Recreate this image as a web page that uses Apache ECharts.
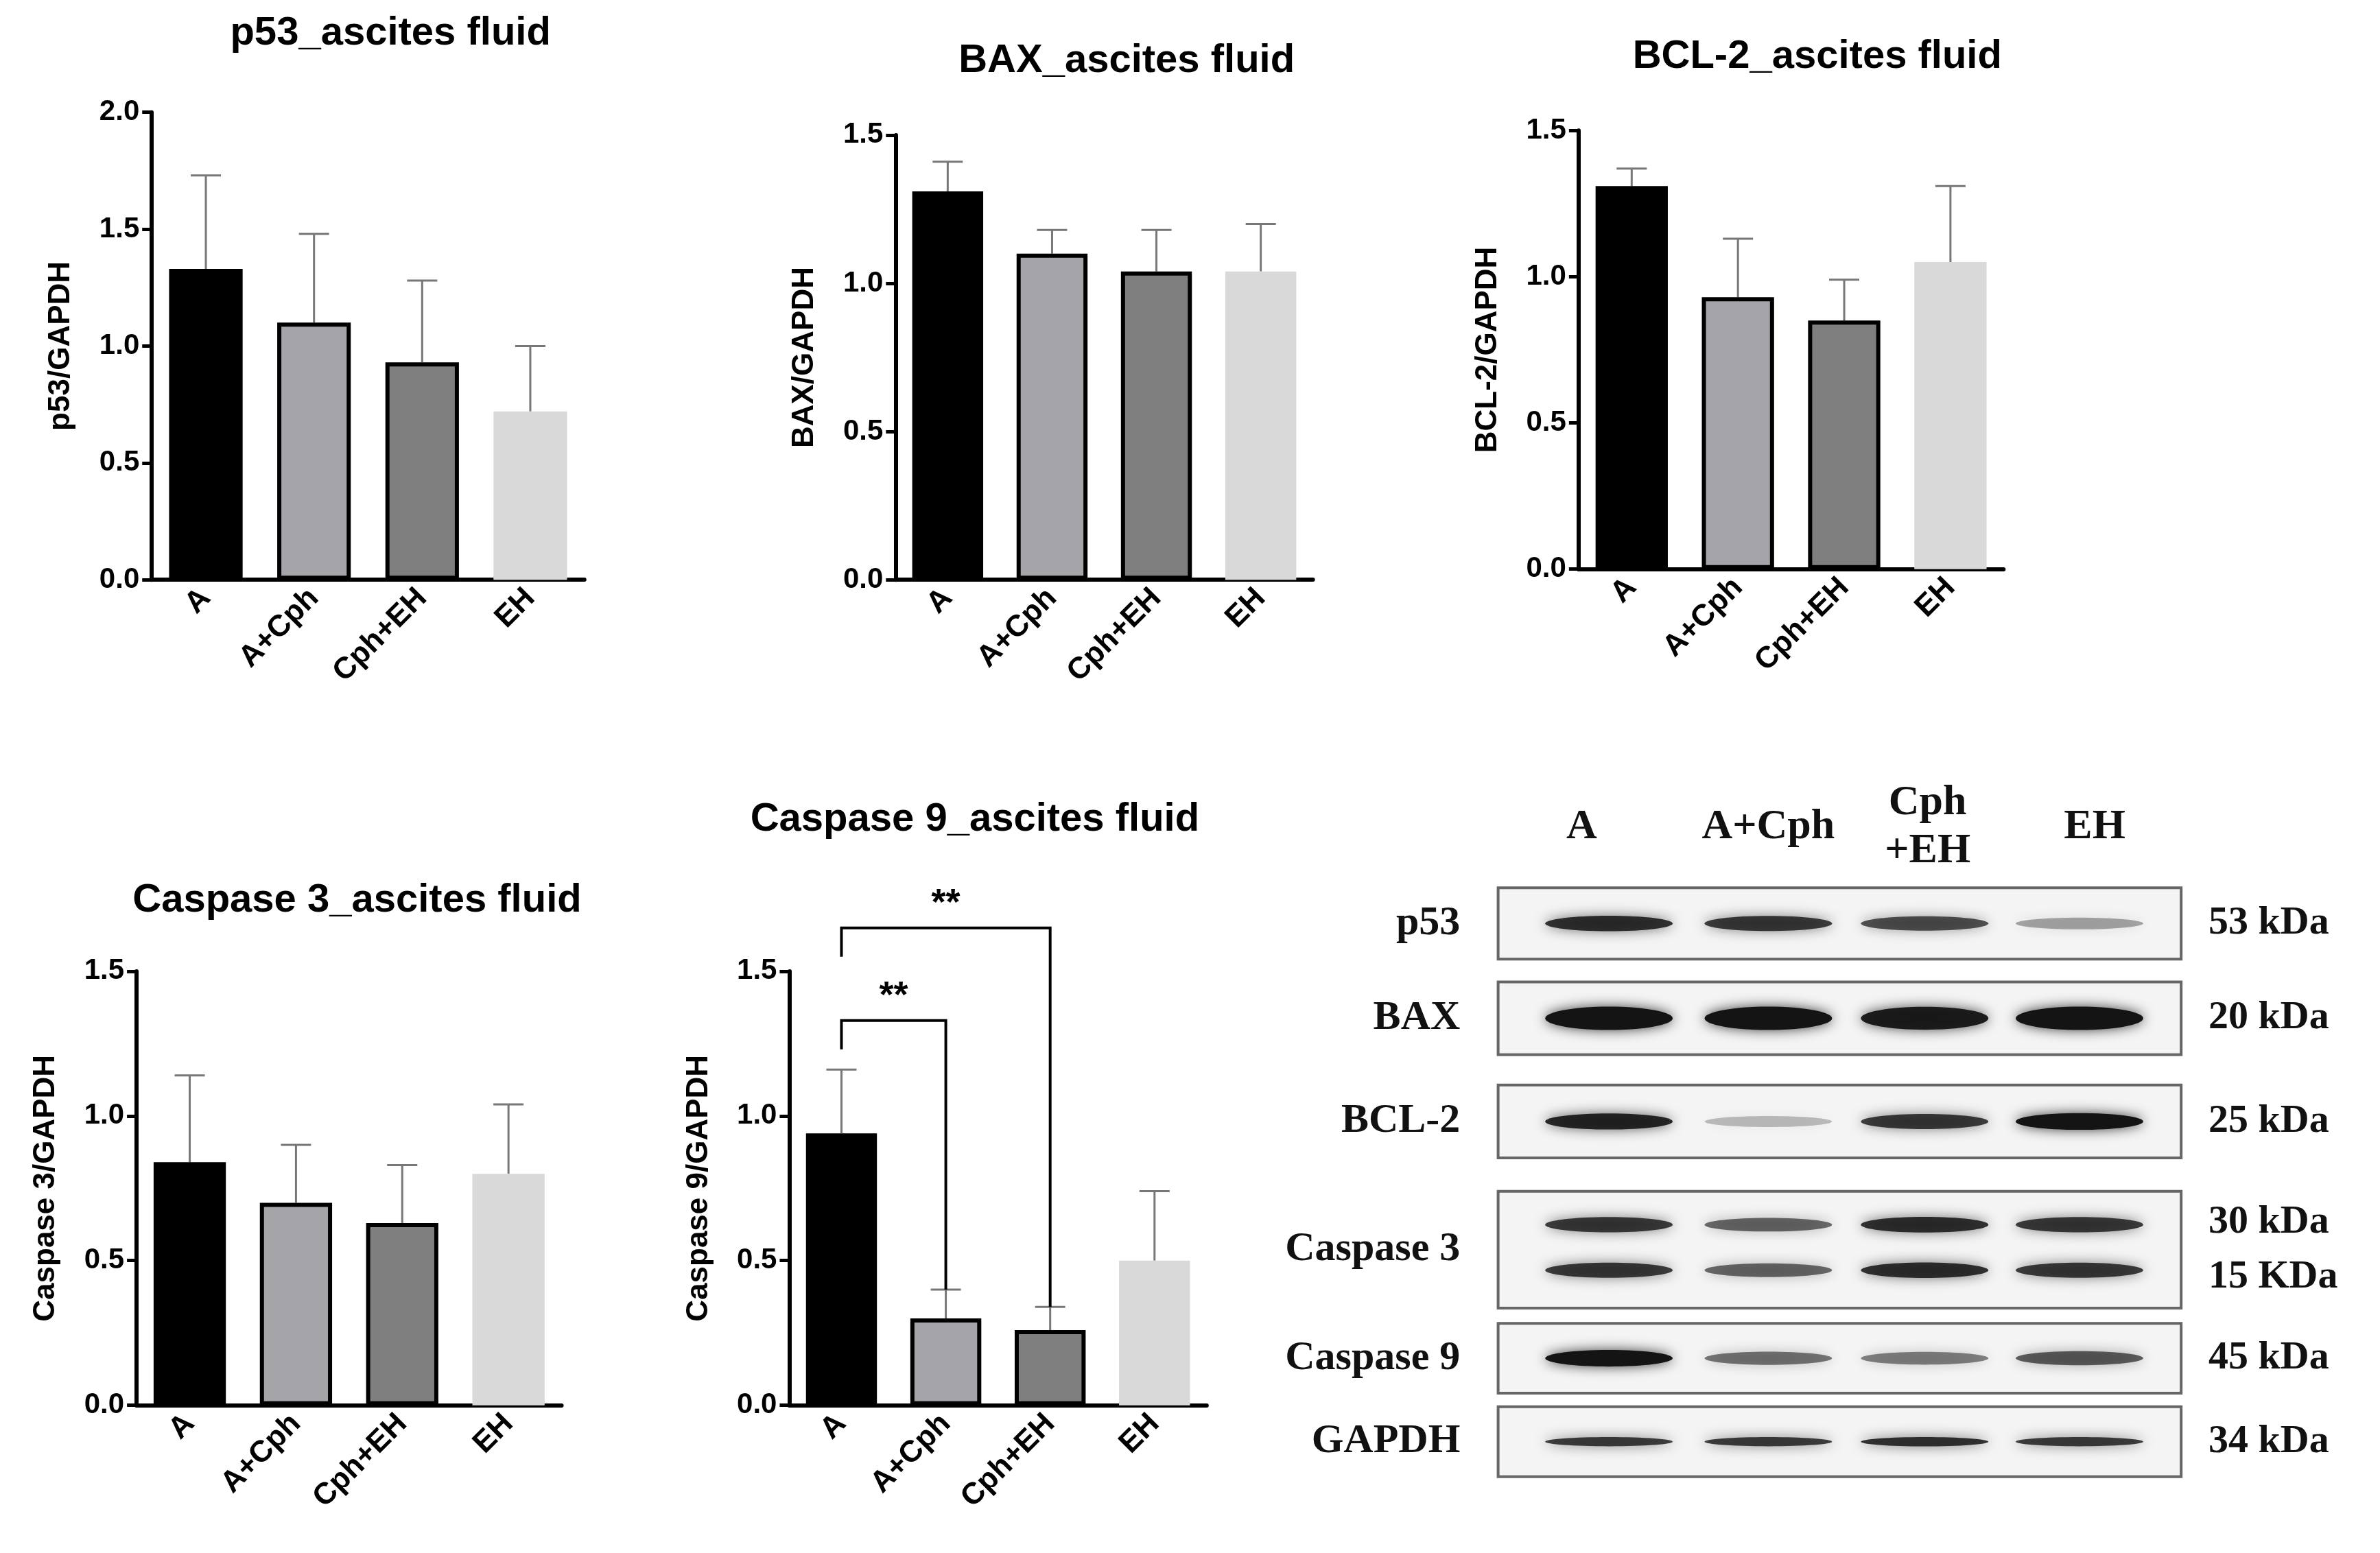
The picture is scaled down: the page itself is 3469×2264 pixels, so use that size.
<!DOCTYPE html>
<html><head><meta charset="utf-8">
<script src="https://cdn.jsdelivr.net/npm/echarts@6/dist/echarts.min.js"></script>
<style>html,body{margin:0;background:#fff}#c{width:3469px;height:2264px}</style>
</head><body><div id="c"></div>
<script>
const groups = ["A", "A+Cph", "Cph+EH", "EH"];
const barColors = ["#000000", "#a5a4a9", "#7f7f7f", "#d9d9d9"];
const p53Mean = [1.33, 1.10, 0.93, 0.72], p53Sd = [0.40, 0.38, 0.35, 0.28];
const baxMean = [1.31, 1.10, 1.04, 1.04], baxSd = [0.10, 0.08, 0.14, 0.16];
const bcl2Mean = [1.31, 0.93, 0.85, 1.05], bcl2Sd = [0.06, 0.20, 0.14, 0.26];
const casp3Mean = [0.84, 0.70, 0.63, 0.80], casp3Sd = [0.30, 0.20, 0.20, 0.24];
const casp9Mean = [0.94, 0.30, 0.26, 0.50], casp9Sd = [0.22, 0.10, 0.08, 0.24];
// significance: [from, to, bracket height, label]
const casp9Sig = [[0, 1, 1.33, "**"], [0, 2, 1.65, "**"]];
const blotRows = ["p53", "BAX", "BCL-2", "Caspase 3", "Caspase 9", "GAPDH"];
const blotKda = ["53 kDa", "20 kDa", "25 kDa", "30 kDa\n15 KDa", "45 kDa", "34 kDa"];
const blotIntensity = [
  [0.85, 0.8, 0.7, 0.35],
  [1, 1, 0.95, 1],
  [0.9, 0.25, 0.8, 1],
  [0.8, 0.6, 0.85, 0.8],
  [1, 0.55, 0.5, 0.65],
  [0.8, 0.8, 0.85, 0.8]
];

const s = 3469 / 1568;
const chart = echarts.init(document.getElementById("c"));
const panels = [
  {title: "p53_ascites fluid", yName: "p53/GAPDH", mean: p53Mean, sd: p53Sd, max: 2.0, ax: 100, top: 74, y0: 382, right: 385, ty: 22, tx: 255},
  {title: "BAX_ascites fluid", yName: "BAX/GAPDH", mean: baxMean, sd: baxSd, max: 1.5, ax: 590, top: 89, y0: 382, right: 865, ty: 40, tx: 740},
  {title: "BCL-2_ascites fluid", yName: "BCL-2/GAPDH", mean: bcl2Mean, sd: bcl2Sd, max: 1.5, ax: 1040, top: 86, y0: 375, right: 1320, ty: 37, tx: 1195},
  {title: "Caspase 3_ascites fluid", yName: "Caspase 3/GAPDH", mean: casp3Mean, sd: casp3Sd, max: 1.5, ax: 90, top: 640, y0: 926, right: 370, ty: 593, tx: 233},
  {title: "Caspase 9_ascites fluid", yName: "Caspase 9/GAPDH", mean: casp9Mean, sd: casp9Sd, max: 1.5, ax: 520, top: 640, y0: 926, right: 795, ty: 540, tx: 640, sig: casp9Sig}
];
const F = "Liberation Sans";
const grid = [], xAxis = [], yAxis = [], series = [], title = [];
panels.forEach((p, i) => {
  grid.push({left: p.ax * s, top: p.top * s, width: (p.right - p.ax) * s, height: (p.y0 - p.top) * s});
  title.push({text: p.title, left: p.tx * s, top: (p.ty - 15) * s, textAlign: "center",
    textStyle: {fontFamily: F, fontWeight: "bold", fontSize: 58, color: "#000"}});
  xAxis.push({type: "category", gridIndex: i, data: groups,
    axisLine: {lineStyle: {color: "#000", width: 6}}, axisTick: {length: 14, lineStyle: {width: 5, color: "#000"}, alignWithLabel: true},
    axisLabel: {rotate: 45, fontFamily: F, fontWeight: "bold", fontSize: 44, color: "#000", margin: 20}});
  yAxis.push({type: "value", gridIndex: i, min: 0, max: p.max, interval: 0.5, name: p.yName, nameLocation: "middle", nameGap: 110,
    nameTextStyle: {fontFamily: F, fontWeight: "bold", fontSize: 44, color: "#000"},
    splitLine: {show: false}, axisLine: {show: true, lineStyle: {color: "#000", width: 6}},
    axisTick: {show: true, length: 14, lineStyle: {width: 5, color: "#000"}},
    axisLabel: {fontFamily: F, fontWeight: "bold", fontSize: 42, color: "#000", margin: 18, formatter: v => v.toFixed(1)}});
  series.push({type: "bar", xAxisIndex: i, yAxisIndex: i, barWidth: "68%",
    data: p.mean.map((v, k) => ({value: v, itemStyle: {color: barColors[k], borderColor: k === 3 ? barColors[k] : "#000", borderWidth: 6}}))});
  series.push({type: "custom", xAxisIndex: i, yAxisIndex: i, z: 1,
    data: p.mean.map((v, k) => [k, v, v + p.sd[k]]),
    renderItem: (params, api) => {
      const a = api.coord([api.value(0), api.value(1)]), b = api.coord([api.value(0), api.value(2)]);
      const st = {stroke: "#777", lineWidth: 3};
      return {type: "group", children: [
        {type: "line", shape: {x1: a[0], y1: a[1], x2: b[0], y2: b[1]}, style: st},
        {type: "line", shape: {x1: b[0] - 22, y1: b[1], x2: b[0] + 22, y2: b[1]}, style: st}]};
    }});
  if (p.sig) {
    series.push({type: "custom", xAxisIndex: i, yAxisIndex: i, clip: false, z: 5,
      data: p.sig.map(g => [g[0], g[1], g[2]]),
      renderItem: (params, api) => {
        const g = p.sig[params.dataIndex];
        const h = api.coord([g[0], g[2]]), e = api.coord([g[1], g[2]]);
        const aTop = api.coord([g[0], g[2] - 0.1]);
        const bTop = api.coord([g[1], p.mean[g[1]] + p.sd[g[1]]]);
        const st = {stroke: "#000", lineWidth: 4, fill: null};
        return {type: "group", children: [
          {type: "polyline", shape: {points: [[aTop[0], aTop[1]], h, e, [bTop[0], bTop[1]]]}, style: st},
          {type: "text", x: (h[0] + e[0]) / 2, y: h[1] - 8, style: {text: g[3], fontSize: 54, fontWeight: "bold", fontFamily: F, fill: "#000", align: "center", verticalAlign: "bottom"}}]};
      }});
  }
});

// western blot panel
const rowBoxes = [[585, 632], [647, 695], [715, 763], [785, 862], [872, 918], [927, 973]];
const laneX = [1060, 1165, 1268, 1370];
const headerX = [1042, 1165, 1270, 1380];
const headers = ["A", "A+Cph", "Cph\n+EH", "EH"];
const graphic = [];
headers.forEach((h, k) => graphic.push({type: "text", x: headerX[k] * s, y: 545 * s,
  style: {text: h, font: "bold 62px 'Liberation Serif'", fill: "#111", align: "center", verticalAlign: "middle", lineHeight: 70}}));
rowBoxes.forEach((r, j) => {
  graphic.push({type: "rect", shape: {x: 987 * s, y: r[0] * s, width: 450 * s, height: (r[1] - r[0]) * s},
    style: {fill: "#f4f4f4", stroke: "#666", lineWidth: 4}});
  graphic.push({type: "text", x: 962 * s, y: (r[0] + r[1]) / 2 * s,
    style: {text: blotRows[j], font: "bold 60px 'Liberation Serif'", fill: "#111", align: "right", verticalAlign: "middle"}});
  graphic.push({type: "text", x: 1455 * s, y: (r[0] + r[1]) / 2 * s,
    style: {text: blotKda[j], font: "bold 58px 'Liberation Serif'", fill: "#111", align: "left", verticalAlign: "middle", lineHeight: 80}});
  const ys = j === 3 ? [r[0] + 22, r[0] + 52] : [(r[0] + r[1]) / 2];
  laneX.forEach((lx, k) => {
    ys.forEach(yy => {
      const a = blotIntensity[j][k];
      const hh = (j === 1 ? 14 : j === 5 ? 6 : 10) * s * (0.6 + a * 0.5);
      graphic.push({type: "ellipse", shape: {cx: lx * s, cy: yy * s, rx: 42 * s, ry: hh / 2},
        style: {fill: "rgba(20,20,20," + a + ")", shadowBlur: 18, shadowColor: "rgba(20,20,20," + a * 0.8 + ")"}});
    });
  });
});

chart.setOption({animation: false, backgroundColor: "#fff", title, grid, xAxis, yAxis, series, graphic});
</script></body></html>
